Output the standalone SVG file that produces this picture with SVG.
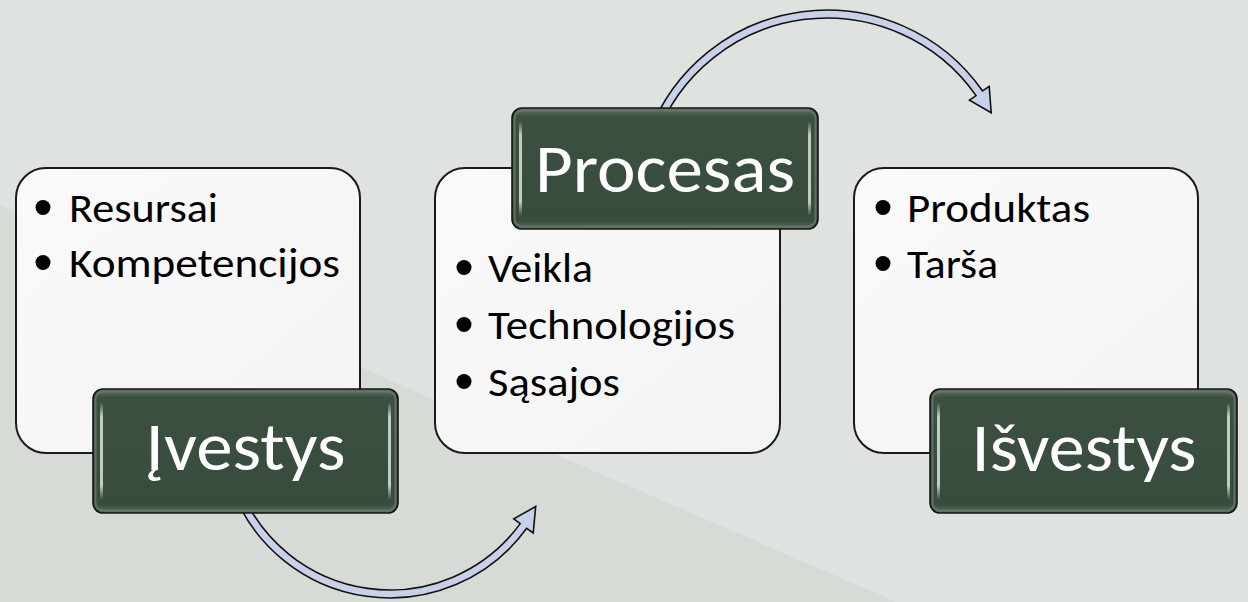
<svg xmlns="http://www.w3.org/2000/svg" width="1248" height="602" viewBox="0 0 1248 602">
<style>
.box{fill:url(#boxGrad);stroke:#1a1a1a;stroke-width:2}
.lbl{fill:url(#lblGrad);stroke:#141414;stroke-width:1.6}
.rim{fill:none;stroke:#66796B;stroke-width:2;opacity:0.8}
.hl{fill:url(#hlGrad)}
.body{font-family:Carlito,Lato,"Open Sans",sans-serif;font-size:41px;fill:#000}
.title{font-family:Carlito,Lato,"Open Sans",sans-serif;font-size:68px;fill:#fff;text-anchor:middle}
.bul{fill:#000}
.arrow{fill:#C8D0EA;stroke:#111;stroke-width:1.6;stroke-linejoin:miter}
</style>
<defs>
<linearGradient id="boxGrad" x1="0" y1="0" x2="1" y2="1">
<stop offset="0" stop-color="#FAFAFA"/>
<stop offset="1" stop-color="#F3F3F3"/>
</linearGradient>
<linearGradient id="lblGrad" x1="0" y1="0" x2="0" y2="1">
<stop offset="0" stop-color="#62756A"/>
<stop offset="0.07" stop-color="#3B5041"/>
<stop offset="0.93" stop-color="#374C3D"/>
<stop offset="1" stop-color="#5C6F62"/>
</linearGradient>
<linearGradient id="hlGrad" x1="0" y1="0" x2="0" y2="1">
<stop offset="0" stop-color="#D6E4D6" stop-opacity="0"/>
<stop offset="0.15" stop-color="#D6E4D6" stop-opacity="0.85"/>
<stop offset="0.85" stop-color="#D6E4D6" stop-opacity="0.85"/>
<stop offset="1" stop-color="#D6E4D6" stop-opacity="0"/>
</linearGradient>
</defs>
<rect x="0" y="0" width="1248" height="602" fill="#DFE3DF"/>
<polygon points="0,205 557,455 950,625 0,625" fill="#D7DBD6"/>
<g id="connectors">
<path class="arrow" d="M231.2,486.8 A169,169 0 0 0 526.7,528.3 L533.2,533.0 L535.7,506.5 L513.8,518.9 L520.2,523.6 A161,161 0 0 1 238.7,484.1 Z"/>
<path class="arrow" d="M648.5,135.0 A190,190 0 0 1 982.6,91.0 L989.2,86.4 L991.2,112.7 L969.5,100.2 L976.1,95.6 A182,182 0 0 0 656.0,137.8 Z"/>
</g>
<g id="ivestys">
<rect class="box" x="16" y="168" width="344" height="285" rx="30"/>
<circle class="bul" cx="43" cy="207.5" r="7.5"/>
<text class="body" x="69" y="222" textLength="149" lengthAdjust="spacingAndGlyphs">Resursai</text>
<circle class="bul" cx="43" cy="262.5" r="7.5"/>
<text class="body" x="69" y="277" textLength="271" lengthAdjust="spacingAndGlyphs">Kompetencijos</text>
<rect class="lbl" x="93" y="389" width="305" height="124" rx="10"/>
<rect class="rim" x="95.5" y="391.5" width="300" height="119" rx="8"/>
<rect class="hl" x="100" y="402" width="3" height="98" rx="1.5"/>
<rect class="hl" x="388" y="402" width="3" height="98" rx="1.5"/>
<text class="title" x="245.5" y="470" textLength="200" lengthAdjust="spacingAndGlyphs">Įvestys</text>
</g>
<g id="procesas">
<rect class="box" x="435" y="168" width="345" height="285" rx="30"/>
<circle class="bul" cx="464" cy="267.5" r="7.5"/>
<text class="body" x="488" y="282" textLength="105" lengthAdjust="spacingAndGlyphs">Veikla</text>
<circle class="bul" cx="464" cy="324.5" r="7.5"/>
<text class="body" x="488" y="339" textLength="247" lengthAdjust="spacingAndGlyphs">Technologijos</text>
<circle class="bul" cx="464" cy="381.5" r="7.5"/>
<text class="body" x="488" y="396" textLength="132" lengthAdjust="spacingAndGlyphs">Sąsajos</text>
<rect class="lbl" x="512" y="108" width="306" height="121" rx="10"/>
<rect class="rim" x="514.5" y="110.5" width="301" height="116" rx="8"/>
<rect class="hl" x="519" y="121" width="3" height="95" rx="1.5"/>
<rect class="hl" x="808" y="121" width="3" height="95" rx="1.5"/>
<text class="title" x="665" y="192" textLength="260" lengthAdjust="spacingAndGlyphs">Procesas</text>
</g>
<g id="isvestys">
<rect class="box" x="854" y="168" width="344" height="285" rx="30"/>
<circle class="bul" cx="883" cy="207.5" r="7.5"/>
<text class="body" x="907" y="222" textLength="183" lengthAdjust="spacingAndGlyphs">Produktas</text>
<circle class="bul" cx="883" cy="263.5" r="7.5"/>
<text class="body" x="907" y="278" textLength="91" lengthAdjust="spacingAndGlyphs">Tarša</text>
<rect class="lbl" x="930" y="389" width="307" height="124" rx="10"/>
<rect class="rim" x="932.5" y="391.5" width="302" height="119" rx="8"/>
<rect class="hl" x="937" y="402" width="3" height="98" rx="1.5"/>
<rect class="hl" x="1227" y="402" width="3" height="98" rx="1.5"/>
<text class="title" x="1084" y="471" textLength="225" lengthAdjust="spacingAndGlyphs">Išvestys</text>
</g>
</svg>
